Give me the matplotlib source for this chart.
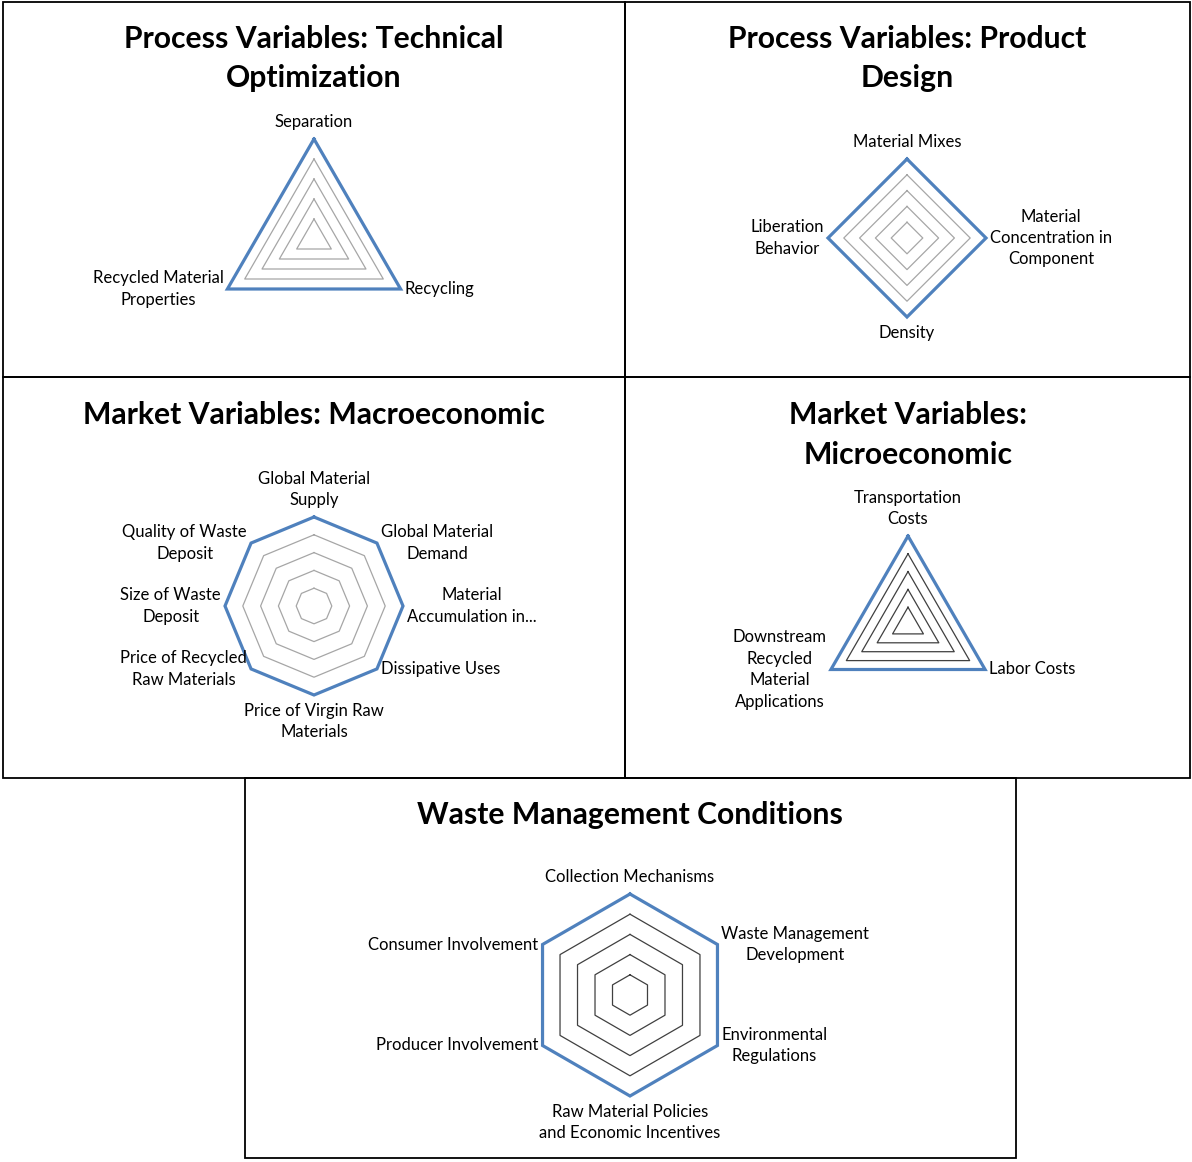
import numpy as np
import matplotlib.pyplot as plt
from matplotlib.patches import Rectangle

plt.rcParams['font.family'] = ['Lato', 'DejaVu Sans']

W, H = 1192, 1162

# Panel data
tech_labels = ["Separation", "Recycling", "Recycled Material\nProperties"]
tech_values = [5, 5, 5]

design_labels = ["Material Mixes", "Material\nConcentration in\nComponent",
                 "Density", "Liberation\nBehavior"]
design_values = [5, 5, 5, 5]

macro_labels = ["Global Material\nSupply", "Global Material\nDemand",
                "Material\nAccumulation in...", "Dissipative Uses",
                "Price of Virgin Raw\nMaterials", "Price of Recycled\nRaw Materials",
                "Size of Waste\nDeposit", "Quality of Waste\nDeposit"]
macro_values = [5, 5, 5, 5, 5, 5, 5, 5]

micro_labels = ["Transportation\nCosts", "Labor Costs",
                "Downstream\nRecycled\nMaterial\nApplications"]
micro_values = [5, 5, 5]

waste_labels = ["Collection Mechanisms", "Waste Management\nDevelopment",
                "Environmental\nRegulations",
                "Raw Material Policies\nand Economic Incentives",
                "Producer Involvement", "Consumer Involvement"]
waste_values = [5, 5, 5, 5, 5, 5]

grid_levels = [1, 2, 3, 4, 5]

BLUE = "#4F81BD"
PX = 0.72  # points per pixel at dpi 100


def box(fig, x0, y0, x1, y1):
    fig.add_artist(Rectangle((x0 / W, 1 - y1 / H), (x1 - x0) / W, (y1 - y0) / H,
                             transform=fig.transFigure, fill=False,
                             ec="black", lw=1.3))


def radar(fig, cx, cy, r, labels, values, grid_color, title, ty):
    ax = fig.add_axes([(cx - r) / W, 1 - (cy + r) / H, 2 * r / W, 2 * r / H],
                      projection="polar")
    ax.set_theta_offset(np.pi / 2)
    ax.set_theta_direction(-1)
    ax.set_ylim(0, 5)
    ax.axis("off")
    n = len(labels)
    ang = np.linspace(0, 2 * np.pi, n, endpoint=False)
    closed = np.append(ang, ang[0])
    for lv in grid_levels[:-1]:
        ax.plot(closed, [lv] * (n + 1), color=grid_color, lw=0.9, clip_on=False)
    vals = list(values) + [values[0]]
    ax.plot(closed, vals, color=BLUE, lw=2.3, clip_on=False,
            solid_joinstyle="miter")
    for a, lab, v in zip(ang, labels, values):
        s, c = np.sin(a), np.cos(a)
        if abs(s) < 0.05:
            ha = "center"
            if c > 0:
                va, dx, dy = "bottom", 0, 9
            else:
                va, dx, dy = "top", 0, -8
        else:
            ha = "left" if s > 0 else "right"
            va, dx, dy = "center", 4 * np.sign(s), 0
        ax.annotate(lab, xy=(a, v), xytext=(dx * PX, dy * PX),
                    textcoords="offset points", ha=ha, va=va,
                    multialignment="center", fontsize=12, linespacing=1.42,
                    annotation_clip=False)
    fig.text(cx / W, 1 - ty / H, title, ha="center", va="top",
             fontsize=21.7, fontweight="bold", linespacing=1.5)


fig = plt.figure(figsize=(W / 100, H / 100), dpi=100)

box(fig, 3, 2, 625, 377)
box(fig, 625, 2, 1190, 377)
box(fig, 3, 377, 625, 778)
box(fig, 625, 377, 1190, 778)
box(fig, 245, 778, 1016, 1158)

radar(fig, 314, 239, 100, tech_labels, tech_values, "#A6A6A6",
      "Process Variables: Technical\nOptimization", 25)
radar(fig, 907, 238, 79, design_labels, design_values, "#A6A6A6",
      "Process Variables: Product\nDesign", 25)
radar(fig, 314, 606, 89, macro_labels, macro_values, "#A6A6A6",
      "Market Variables: Macroeconomic", 401)
radar(fig, 908, 625, 89, micro_labels, micro_values, "#404040",
      "Market Variables:\nMicroeconomic", 401)
radar(fig, 630, 995, 101, waste_labels, waste_values, "#404040",
      "Waste Management Conditions", 801)

fig.savefig("out.png", dpi=100)
